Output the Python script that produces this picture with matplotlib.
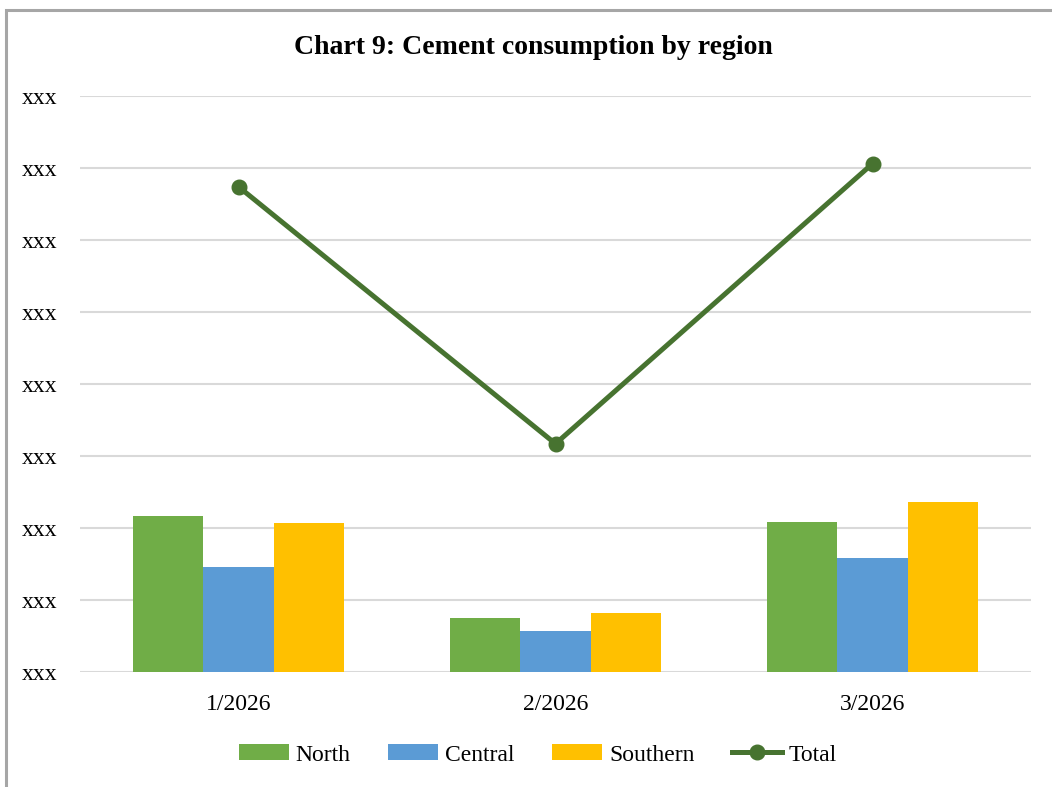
import numpy as np
import matplotlib
matplotlib.use('Agg')
import matplotlib.pyplot as plt
from matplotlib.patches import Rectangle

plt.rcParams['font.family'] = ['Liberation Serif', 'DejaVu Serif']

months = ['1/2026', '2/2026', '3/2026']
north = [2.17, 0.75, 2.08]
central = [1.46, 0.57, 1.58]
southern = [2.07, 0.82, 2.36]
total = [6.74, 3.17, 7.06]
y_ticks = [0, 1, 2, 3, 4, 5, 6, 7, 8]
y_labels = ['xxx'] * 9

fig = plt.figure(figsize=(10.52, 7.87), dpi=100)
# outer chart frame
fig.patches.append(Rectangle((6 / 1052, -0.1), 1.2, 1.1 - 10 / 787,
                             transform=fig.transFigure, fill=False,
                             edgecolor='#a6a6a6', linewidth=2.2))

ax = fig.add_axes([80 / 1052, 1 - 672 / 787, 951 / 1052, 576 / 787])
x = np.arange(len(months))
w = 0.222
ax.bar(x - w, north, w, color='#70AD47', label='North', zorder=2)
ax.bar(x, central, w, color='#5B9BD5', label='Central', zorder=2)
ax.bar(x + w, southern, w, color='#FFC000', label='Southern', zorder=2)
ax.plot(x, total, color='#477330', lw=3.6, marker='o', markersize=10.5,
        label='Total', zorder=3)

ax.set_xlim(-0.5, 2.5)
ax.set_ylim(0, 8)
ax.set_yticks(y_ticks)
ax.set_yticklabels(y_labels, fontsize=17)
ax.set_xticks(x)
ax.set_xticklabels(months, fontsize=17)
ax.grid(axis='y', color='#d9d9d9', lw=1.5, zorder=0)
ax.tick_params(length=0)
ax.tick_params(axis='x', pad=16)
ax.tick_params(axis='y', pad=16)
for s in ax.spines.values():
    s.set_visible(False)

fig.text(533 / 1052, 1 - 47 / 787, 'Chart 9: Cement consumption by region',
         ha='center', va='center', fontsize=20, fontweight='bold')

handles, labels = ax.get_legend_handles_labels()
order = [1, 2, 3, 0]
fig.legend([handles[i] for i in order], [labels[i] for i in order],
           loc='center', bbox_to_anchor=(538 / 1052, 1 - 755 / 787), ncol=4,
           frameon=False, fontsize=17, handlelength=2.1, handleheight=0.64,
           handletextpad=0.3, columnspacing=1.6)

fig.savefig('out.png', dpi=100)
